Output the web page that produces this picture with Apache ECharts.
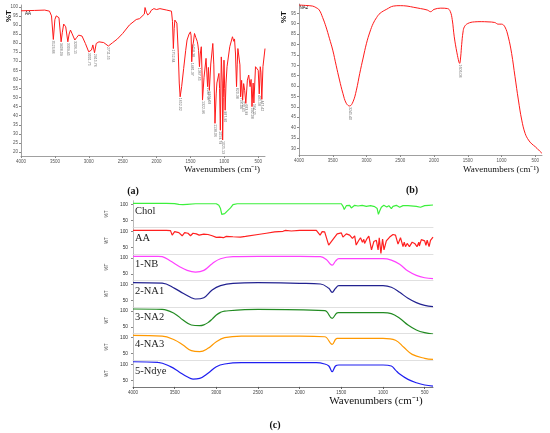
<!DOCTYPE html>
<html><head><meta charset="utf-8">
<script src="https://cdn.jsdelivr.net/npm/echarts@6/dist/echarts.min.js"></script>
<style>html,body{margin:0;padding:0;background:#fff}#c{width:550px;height:433px}</style>
</head><body><div id="c"></div>
<script>
// ---- tick labels ----
const xTicks = [4000,3500,3000,2500,2000,1500,1000,500];
const yTicksA = [20,25,30,35,40,45,50,55,60,65,70,75,80,85,90,95,100];
const yTicksB = [30,35,40,45,50,55,60,65,70,75,80,85,90,95];
const yTicksC = [50,100];

// ---- (a) AA spectrum [wavenumber, %T] ----
const specAA = [[4000,97.8],[3800,98],[3650,98.2],[3580,97.6],[3550,95],[3523,82],[3500,93],[3480,95],[3440,94],[3408,80.7],[3390,86],[3370,90.5],[3340,89],[3309,80.7],[3290,85],[3270,87.2],[3250,85.5],[3206,81.7],[3180,83],[3150,84.4],[3100,83.9],[3050,79.8],[3001,75.2],[2960,76.2],[2940,79],[2915,74.7],[2890,79.8],[2850,80.7],[2780,80.3],[2711,78.4],[2650,80.2],[2580,82.2],[2500,85.3],[2400,90],[2300,93],[2250,93.5],[2180,96],[2170,99.6],[2150,97],[2130,95.5],[2100,96.5],[2080,98],[2060,97.5],[2040,99],[2020,98.5],[2000,98.5],[1950,99],[1850,98.2],[1780,97.6],[1765,92],[1752,77],[1740,88],[1730,92.7],[1715,93.5],[1700,91],[1680,75],[1665,58],[1652,50.4],[1630,56],[1600,66],[1570,76],[1550,81.7],[1520,85],[1500,86.2],[1490,84],[1481,69.7],[1470,78],[1458,80],[1440,85.3],[1420,83],[1400,81],[1390,79],[1380,76],[1367,67],[1355,74],[1340,78],[1330,65],[1322,48.6],[1300,61],[1270,71.6],[1247,56],[1235,66.6],[1221,54],[1200,68.5],[1185,74],[1170,79.8],[1155,68],[1138,35.8],[1120,52],[1110,58],[1080,63.3],[1070,55],[1059,32],[1045,72.4],[1030,58],[1025,26.6],[1015,50],[1005,70.6],[995,55],[988,43],[975,58],[960,67],[920,78],[880,83.5],[860,81],[850,82.3],[835,74],[820,56],[810,68],[800,77],[780,76],[770,68],[760,50.4],[745,59.5],[730,48.6],[715,57.7],[700,54],[683,46.8],[660,59.6],[640,62.4],[620,56],[605,60],[592,45],[575,58],[564,47],[540,67],[520,68],[500,65],[485,52],[470,67],[460,64],[447,49],[430,67],[400,77]];
const peaksAA = [3523,3408,3309,3206,3001,2915,2711,1752,1652,1481,1458,1367,1322,1247,1221,1138,1059,1025,988,820,760,730,683,592,564,485,447];
const peakTextAA = ['3523.88','3408.09','3309.45','3206.15','3001.75','2915.76','2711.55','1752.84','1652.02','1481.37','1458.38','1367.65','1322.96','1247.07','1221.08','1138.06','1059.79','1025.13','987.90','820.38','756.04','720.65','683.99','592.08','564.15','485.58','447.42'];

// ---- (b) NA2 spectrum ----
const specNA2 = [[4000,99],[3900,98.8],[3800,98.5],[3750,97.8],[3700,96.6],[3650,93],[3600,88.5],[3550,83],[3500,77.3],[3450,70],[3400,62.9],[3350,56.5],[3300,51.7],[3250,50.4],[3200,52.4],[3150,58],[3100,66.1],[3050,73.5],[3000,80.6],[2950,86],[2900,90.2],[2850,93],[2800,95],[2700,97],[2600,98.5],[2500,98.7],[2400,98.5],[2300,97.9],[2200,97.3],[2100,96.6],[2050,95.8],[2000,96.9],[1900,97.5],[1800,97.3],[1760,96],[1730,92],[1700,83.7],[1660,76],[1630,71.5],[1620,70.9],[1605,74],[1590,80],[1570,86],[1550,88.5],[1500,90.1],[1400,90.9],[1300,91],[1200,90.9],[1100,90.6],[1050,89.8],[1000,89.8],[950,88.5],[900,83.7],[850,75.7],[800,64.5],[750,53.3],[700,43.6],[650,37.2],[600,34],[550,32.1],[500,30.8],[450,29.2],[400,27.6]];
const peaksNA2 = [3250,1620];
const peakTextNA2 = ['3245.40','1606.08'];

// ---- (c) stacked spectra ----
const panelNames = ['Chol','AA','1-NB','2-NA1','3-NA2','4-NA3','5-Ndye'];
const cChol = [[4000,104],[3600,104],[3500,103.5],[3450,101],[3400,100],[3350,101],[3250,103],[3000,103],[2970,98],[2950,88],[2935,70],[2920,74],[2900,72],[2870,80],[2850,76],[2830,90],[2800,100],[2750,103],[2000,103],[1500,103],[1480,95],[1465,85],[1450,90],[1440,97],[1400,98],[1380,90],[1365,88],[1340,98],[1300,96],[1250,98],[1200,95],[1150,97],[1100,94],[1070,88],[1055,70],[1040,80],[1020,92],[990,98],[955,93],[930,97],[900,88],[880,95],[840,98],[800,92],[760,97],[740,98],[700,97],[600,95],[550,92],[500,97],[450,98],[400,99]];
const cAA = [[4000,103],[3600,103],[3550,102],[3530,88],[3500,99],[3450,96],[3410,86],[3380,96],[3340,94],[3310,86],[3280,94],[3240,92],[3206,88],[3150,91],[3100,90],[3050,86],[3000,81],[2960,82],[2915,80],[2880,84],[2800,83],[2711,82],[2650,84],[2500,90],[2400,94],[2300,98],[2200,100],[2170,103],[2100,101],[2000,103],[1900,103],[1800,103],[1780,102],[1755,88],[1730,99],[1700,98],[1652,57],[1600,75],[1550,92],[1500,95],[1481,82],[1440,92],[1400,88],[1367,78],[1340,86],[1322,57],[1290,72],[1270,80],[1247,66],[1230,75],[1221,62],[1190,78],[1170,85],[1138,42],[1110,68],[1080,72],[1059,42],[1045,80],[1025,31],[1005,76],[988,42],[960,70],[920,82],[880,90],[850,88],[820,60],[790,80],[760,52],[745,66],[730,52],[710,62],[683,52],[650,66],[620,62],[592,52],[570,66],[564,54],[540,74],[520,72],[500,70],[485,56],[470,72],[447,52],[430,72],[400,82]];
const cNB = [[4000,105],[3700,105],[3650,104],[3550,90],[3450,74],[3350,61],[3250,55.6],[3150,61],[3050,82],[2950,97.5],[2800,104],[2500,105],[2000,105],[1750,103.7],[1680,95],[1630,80],[1610,77.5],[1570,90],[1530,97.5],[1400,97.5],[1000,97.5],[900,93],[800,80],[700,58.7],[600,45.3],[500,38],[400,35]];
const cNA1 = [[4000,106],[3650,104],[3500,88],[3400,72.5],[3300,58.8],[3250,54.7],[3150,58.8],[3050,82.8],[2950,96.3],[2800,103.7],[2500,105.7],[2000,103.7],[1750,101.6],[1650,88],[1610,75.6],[1570,88],[1530,96.3],[1000,96.3],[900,91.3],[800,75.6],[700,56.8],[600,43.3],[500,35],[400,30.6]];
const cNA2 = [[4000,106.6],[3650,105.5],[3500,92],[3400,72],[3300,56.6],[3200,54.5],[3150,57],[3100,64],[3050,75],[3000,88],[2950,96],[2900,100],[2500,105.5],[1700,101.3],[1610,77.5],[1540,95],[1000,95],[900,92],[800,77.5],[700,56.6],[600,41],[500,32.5],[400,28.4]];
const cNA3 = [[4000,107],[3650,105],[3500,92.8],[3400,77],[3300,59.5],[3200,56.3],[3100,66.8],[3000,87.5],[2900,100],[2700,105],[2000,105],[1700,103],[1610,79.3],[1550,98],[1000,98],[850,92],[750,70],[650,48],[500,35.6],[400,32.5]];
const cNdye = [[4000,108],[3700,106],[3550,92.6],[3450,77],[3350,61],[3280,54],[3200,56],[3100,72],[3000,92.6],[2900,101],[2700,105],[2000,105],[1800,105],[1700,101],[1650,94.7],[1610,77],[1570,94.7],[1530,97.8],[1000,97.8],[900,94.7],[850,82],[800,69.7],[700,53],[600,42.5],[500,35.3],[400,32]];
const panelData = [cChol,cAA,cNB,cNA1,cNA2,cNA3,cNdye];

// ---- styles ----
const panelColors = ['#3cf03c','#ff2020','#ff40ff','#222290','#228b22','#ff9900','#1f1ff0'];
const panelSmooth = [false,false,0.4,0.4,0.4,0.4,0.4];

function peakData(spec, wns, texts){
  return wns.map((w,i)=>{
    let best = spec[0];
    spec.forEach(p=>{ if (Math.abs(p[0]-w) < Math.abs(best[0]-w)) best = p; });
    return {name: texts[i], value: [best[0], best[1]]};
  });
}
const plain = v => String(v);

const chart = echarts.init(document.getElementById('c'), null, {renderer:'canvas'});
const grids = [], xAxes = [], yAxes = [], series = [];
const axisGray = '#888';

// (a)
grids.push({left:21, top:5, width:244, height:151});
xAxes.push({gridIndex:0, type:'value', min:400, max:4000, inverse:true,
  axisLine:{lineStyle:{color:axisGray,width:0.8}}, axisTick:{length:2,lineStyle:{color:axisGray}, customValues:xTicks},
  axisLabel:{fontSize:4.5,color:'#555',margin:3, customValues:xTicks, formatter:plain}, splitLine:{show:false}});
yAxes.push({gridIndex:0, type:'value', min:17.8, max:101,
  axisLine:{show:true,lineStyle:{color:axisGray,width:0.8}}, axisTick:{show:true,length:2,lineStyle:{color:axisGray}, customValues:yTicksA},
  axisLabel:{fontSize:4.5,color:'#555',margin:3, customValues:yTicksA, formatter:plain}, splitLine:{show:false}});
series.push({type:'line', xAxisIndex:0, yAxisIndex:0, data:specAA, showSymbol:false, lineStyle:{color:'#ff1a1a',width:1}, silent:true});
series.push({type:'scatter', xAxisIndex:0, yAxisIndex:0, data:peakData(specAA,peaksAA,peakTextAA), symbolSize:0,
  label:{show:true, formatter:'{b}', rotate:-90, position:'bottom', distance:1, align:'left', verticalAlign:'middle', fontSize:3.6, color:'#444'}});

// (b)
grids.push({left:299, top:4, width:243, height:151});
xAxes.push({gridIndex:1, type:'value', min:400, max:4000, inverse:true,
  axisLine:{lineStyle:{color:axisGray,width:0.8}}, axisTick:{length:2,lineStyle:{color:axisGray}, customValues:xTicks},
  axisLabel:{fontSize:4.5,color:'#555',margin:3, customValues:xTicks, formatter:plain}, splitLine:{show:false}});
yAxes.push({gridIndex:1, type:'value', min:26.8, max:99.5,
  axisLine:{show:true,lineStyle:{color:axisGray,width:0.8}}, axisTick:{show:true,length:2,lineStyle:{color:axisGray}, customValues:yTicksB},
  axisLabel:{fontSize:4.5,color:'#555',margin:3, customValues:yTicksB, formatter:plain}, splitLine:{show:false}});
series.push({type:'line', xAxisIndex:1, yAxisIndex:1, data:specNA2, smooth:0.4, showSymbol:false, lineStyle:{color:'#ff1a1a',width:1}, silent:true});
series.push({type:'scatter', xAxisIndex:1, yAxisIndex:1, data:peakData(specNA2,peaksNA2,peakTextNA2), symbolSize:0,
  label:{show:true, formatter:'{b}', rotate:-90, position:'bottom', distance:1, align:'left', verticalAlign:'middle', fontSize:3.6, color:'#444'}});

// (c)
const cTop = 200.7, cH = 26.6;
panelNames.forEach((nm,i)=>{
  const gi = 2+i, last = (i===panelNames.length-1);
  grids.push({left:133, top:cTop+cH*i, width:300, height:cH});
  xAxes.push({gridIndex:gi, type:'value', min:400, max:4000, inverse:true,
    axisLine:{show:true,lineStyle:{color:last?'#555':'#d8d8d8',width:0.8}},
    axisTick:{show:last,length:2,lineStyle:{color:'#555'}, customValues:xTicks},
    axisLabel:{show:last,fontSize:4.5,color:'#444',margin:3, customValues:xTicks, formatter:plain}, splitLine:{show:false}});
  yAxes.push({gridIndex:gi, type:'value', min:29.4, max:112.5,
    name:'%T', nameLocation:'middle', nameGap:16, nameRotate:90, nameTextStyle:{fontSize:4.5,color:'#333'},
    axisLine:{show:true,lineStyle:{color:'#aaa',width:0.8}},
    axisTick:{show:true,length:2,lineStyle:{color:'#888'}, customValues:yTicksC},
    axisLabel:{fontSize:4.8,color:'#333',margin:5, customValues:yTicksC, formatter:plain}, splitLine:{show:false}});
  series.push({type:'line', xAxisIndex:gi, yAxisIndex:gi, data:panelData[i], smooth:panelSmooth[i], showSymbol:false,
    lineStyle:{color:panelColors[i],width:1.2}, silent:true});
});

function txt(x,y,text,font,opts){
  return Object.assign({type:'text', x:x, y:y, silent:true,
    style:{text:text, font:font, fill:'#111', textAlign:'center', textVerticalAlign:'middle', align:'center', verticalAlign:'middle'}}, opts||{});
}
const serif = '"Liberation Serif","Times New Roman",serif';
const graphics = [
  txt(9,16,'%T','bold 8px "Liberation Sans",Arial,sans-serif',{rotation:Math.PI/2}),
  txt(284,17,'%T','bold 8px "Liberation Sans",Arial,sans-serif',{rotation:Math.PI/2}),
  txt(28,14,'AA','4.5px "Liberation Sans",Arial,sans-serif'),
  txt(304,8,'NA2','4.5px "Liberation Sans",Arial,sans-serif'),
  txt(222,170,'Wavenumbers (cm\u207B\u00B9)','9px '+serif),
  txt(501,170,'Wavenumbers (cm\u207B\u00B9)','9px '+serif),
  txt(376,401,'Wavenumbers (cm\u207B\u00B9)','11px '+serif),
  txt(133,191,'(a)','bold 10px '+serif),
  txt(412,190,'(b)','bold 10px '+serif),
  txt(275,425,'(c)','bold 10px '+serif)
];
panelNames.forEach((nm,i)=>{
  graphics.push({type:'text', x:135, y:cTop+cH*i+10.5, silent:true,
    style:{text:nm, font:'10.5px '+serif, fill:'#222', textAlign:'left', textVerticalAlign:'middle', align:'left', verticalAlign:'middle'}});
});

chart.setOption({
  animation:false,
  backgroundColor:'#fff',
  grid:grids, xAxis:xAxes, yAxis:yAxes, series:series,
  graphic:graphics
});
</script></body></html>
